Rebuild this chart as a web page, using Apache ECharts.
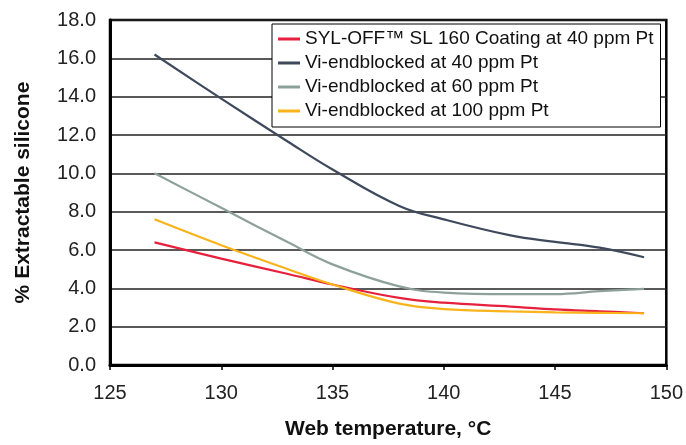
<!DOCTYPE html>
<html>
<head>
<meta charset="utf-8">
<script src="https://cdn.jsdelivr.net/npm/echarts@6/dist/echarts.min.js"></script>
<style>html,body{margin:0;padding:0;background:#fff}#c{width:686px;height:445px}</style>
</head>
<body>
<div id="c"></div>
<script>
var temps = [127, 130, 133, 135, 138, 140, 143, 145, 147, 149];
var seriesNames = ['SYL-OFF\u2122 SL 160 Coating at 40 ppm Pt', 'Vi-endblocked at 40 ppm Pt', 'Vi-endblocked at 60 ppm Pt', 'Vi-endblocked at 100 ppm Pt'];
var sylOff40 = [6.4, 5.55, 4.75, 4.2, 3.5, 3.25, 3.05, 2.9, 2.8, 2.7];
var vi40 = [16.2, 13.9, 11.65, 10.2, 8.3, 7.6, 6.76, 6.42, 6.12, 5.62];
var vi60 = [10.0, 8.2, 6.4, 5.25, 4.1, 3.78, 3.7, 3.7, 3.85, 3.97];
var vi100 = [7.6, 6.25, 5.0, 4.2, 3.2, 2.92, 2.8, 2.75, 2.72, 2.7];
var colors = ['#e6203d', '#3e4a5c', '#8da19a', '#f9b31b'];

function pairs(ys) { return temps.map(function (t, i) { return [t, ys[i]]; }); }
var allData = [sylOff40, vi40, vi60, vi100];
var font = 'Liberation Sans, Arial, Helvetica, sans-serif';

var chart = echarts.init(document.getElementById('c'), null, { renderer: 'canvas' });
chart.setOption({
  animation: false,
  backgroundColor: '#fff',
  grid: { left: 110, right: 19, top: 20, bottom: 76, show: true, borderColor: '#000', borderWidth: 2.5, backgroundColor: 'transparent' },
  legend: {
    orient: 'vertical', left: 272, top: 24,
    backgroundColor: '#fff', borderColor: '#000', borderWidth: 1, borderRadius: 0,
    padding: [5, 7, 6, 6], itemGap: 4, itemWidth: 22, itemHeight: 3, icon: 'rect',
    textStyle: { fontFamily: font, fontSize: 19, color: '#111', lineHeight: 20 },
    data: seriesNames
  },
  xAxis: {
    type: 'value', min: 125, max: 150, interval: 5,
    name: 'Web temperature, \u00b0C', nameLocation: 'middle', nameGap: 54,
    nameTextStyle: { fontFamily: font, fontSize: 21, fontWeight: 'bold', color: '#111' },
    axisLine: { show: true, lineStyle: { color: '#000', width: 3 } },
    axisTick: { show: true, inside: false, length: 5, lineStyle: { color: '#000', width: 1.5 } },
    axisLabel: { fontFamily: font, fontSize: 20, color: '#222', margin: 18 },
    splitLine: { show: false }
  },
  yAxis: {
    type: 'value', min: 0, max: 18, interval: 2,
    name: '% Extractable silicone', nameLocation: 'middle', nameGap: 76, nameRotate: 90,
    nameTextStyle: { fontFamily: font, fontSize: 21, fontWeight: 'bold', color: '#111' },
    axisLine: { show: true, lineStyle: { color: '#000', width: 3 } },
    axisTick: { show: false },
    axisLabel: { fontFamily: font, fontSize: 20, color: '#222', margin: 14, formatter: function (v) { return v.toFixed(1); } },
    splitLine: { show: true, lineStyle: { color: '#222', width: 1.5 } }
  },
  series: seriesNames.map(function (n, i) {
    return {
      name: n, type: 'line', data: pairs(allData[i]), smooth: 0.4, showSymbol: false, symbol: 'none',
      lineStyle: { color: colors[i], width: 2.2 }, itemStyle: { color: colors[i] }, z: 3
    };
  })
});
</script>
</body>
</html>
